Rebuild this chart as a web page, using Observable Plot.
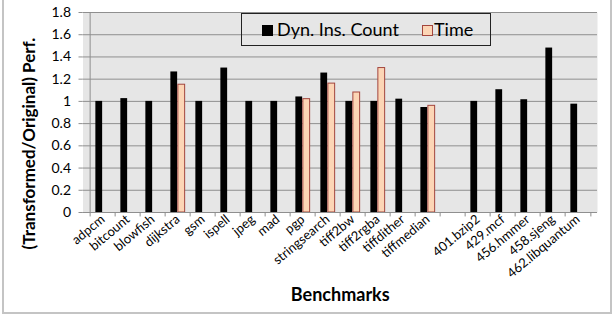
<!DOCTYPE html>
<html>
<head>
<meta charset="utf-8">
<script src="https://cdn.jsdelivr.net/npm/d3@7"></script>
<script src="https://cdn.jsdelivr.net/npm/@observablehq/plot@0.6"></script>
<style>
  body { margin: 0; background: #fff; }
  #wrap { position: relative; width: 613px; height: 317px; overflow: hidden; font-family: Lato, "Open Sans", sans-serif; }
  #wrap svg { position: absolute; left: 0; top: 0; }
  #border { position: absolute; left: 2px; top: -3px; width: 610px; height: 317px; box-sizing: border-box; border: 2px solid #c4c4c4; }
  #legend { position: absolute; left: 241px; top: 13px; width: 250px; height: 33px; box-sizing: border-box; border: 1px solid #222; font-size: 18px; color: #000; }
  .sw { position: absolute; top: 11px; width: 11px; height: 11px; box-sizing: border-box; }
  .lt { position: absolute; top: 5px; line-height: 20px; white-space: nowrap; }
</style>
</head>
<body>
<div id="wrap">
  <div id="border"></div>
</div>
<script>
const benchmarks = ["adpcm","bitcount","blowfish","dijkstra","gsm","ispell","jpeg","mad","pgp","stringsearch","tiff2bw","tiff2rgba","tiffdither","tiffmedian"," ","401.bzip2","429.mcf","456.hmmer","458.sjeng","462.libquantum"];
const dynInsCount = [1.0, 1.025, 1.0, 1.265, 1.0, 1.30, 1.0, 1.0, 1.04, 1.255, 1.0, 1.0, 1.02, 0.945, null, 1.0, 1.105, 1.015, 1.48, 0.975];
const timeValues = [null, null, null, 1.15, null, null, null, null, 1.02, 1.16, 1.08, 1.30, null, 0.96, null, null, null, null, null, null];
const yTicks = [0, 0.2, 0.4, 0.6, 0.8, 1, 1.2, 1.4, 1.6, 1.8];
const seriesNames = ["Dyn. Ins. Count", "Time"];
const yLabel = "(Transformed/Original) Perf.";
const xLabel = "Benchmarks";

const W = 613, H = 317, mL = 82.5, mR = 16, mT = 12, mB = 105;
const B = (W - mL - mR) / benchmarks.length;
const barW = 7.5;

const dynData = benchmarks.map((b, i) => ({b, v: dynInsCount[i]})).filter(d => d.v != null);
const timeData = benchmarks.map((b, i) => ({b, v: timeValues[i]})).filter(d => d.v != null);

const chart = Plot.plot({
  width: W, height: H,
  marginLeft: mL, marginRight: mR, marginTop: mT, marginBottom: mB,
  style: {fontFamily: "Lato, 'Open Sans', sans-serif", fontSize: "13px", color: "#000", background: "transparent", overflow: "visible"},
  x: {domain: benchmarks, padding: 0, label: null},
  y: {domain: [0, 1.8], label: null},
  marks: [
    Plot.frame({fill: "#e6e6e6", stroke: null}),
    Plot.gridY(yTicks, {stroke: "#8f8f8f", strokeOpacity: 1}),
    Plot.barY(dynData, {x: "b", y: "v", fill: "#000", insetLeft: B / 2 - barW, insetRight: B / 2}),
    Plot.barY(timeData, {x: "b", y: "v", fill: "#fcd5b5", stroke: "#a3453d", strokeWidth: 1, insetLeft: B / 2, insetRight: B / 2 - barW}),
    Plot.ruleY([0], {stroke: "#8f8f8f"}),
    Plot.ruleX([benchmarks[0]], {dx: -B / 2, y1: 0, y2: 1.8, stroke: "#8f8f8f"}),
    Plot.ruleX(benchmarks, {dx: -B / 2, y1: 0, y2: -0.04, stroke: "#8f8f8f"}),
    Plot.ruleX([benchmarks[benchmarks.length - 1]], {dx: B / 2, y1: 0, y2: -0.04, stroke: "#8f8f8f"}),
    Plot.axisY(yTicks, {tickSize: 4, tickPadding: 8, fontSize: 14, stroke: "#8f8f8f", tickFormat: d => String(+d.toFixed(1)), label: null}),
    Plot.axisX({tickSize: 0, tickPadding: 5, tickRotate: -40, fontSize: 13, label: null}),
    Plot.text([yLabel], {frameAnchor: "left", textAnchor: "middle", rotate: -90, dx: -53, dy: 31, fontWeight: "bold", fontSize: 17}),
    Plot.text([xLabel], {frameAnchor: "bottom", textAnchor: "middle", dy: 88, fontWeight: "bold", fontSize: 18})
  ]
});

const wrap = document.getElementById("wrap");
wrap.insertBefore(chart, wrap.firstChild);

const legend = document.createElement("div");
legend.id = "legend";
legend.innerHTML =
  `<div class="sw" style="left:20px;background:#000"></div><div class="lt" style="left:35px">${seriesNames[0]}</div>` +
  `<div class="sw" style="left:180px;background:#fcd5b5;border:1px solid #a3453d"></div><div class="lt" style="left:192px">${seriesNames[1]}</div>`;
wrap.appendChild(legend);
</script>
</body>
</html>
